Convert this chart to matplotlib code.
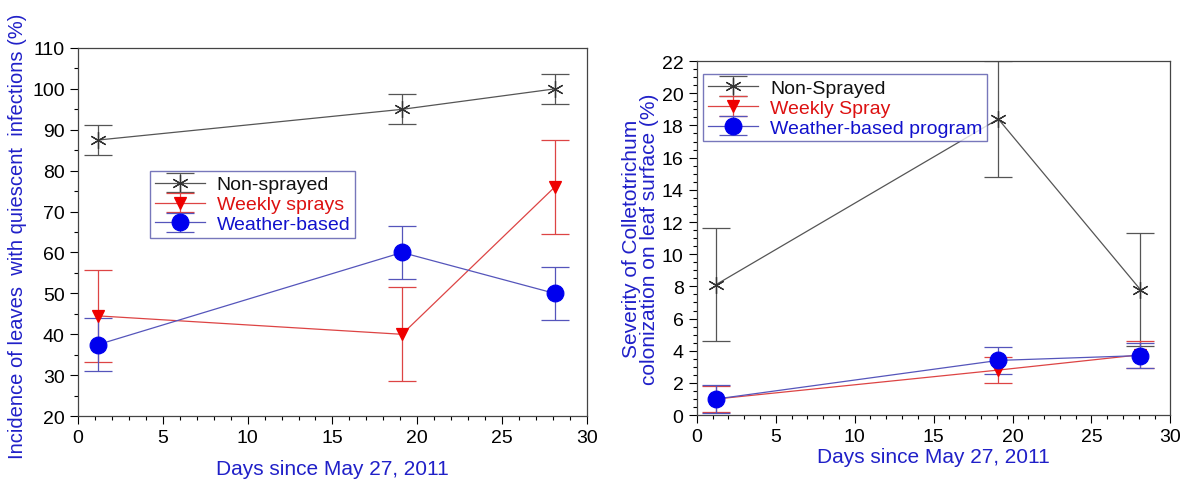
import matplotlib
matplotlib.use('Agg')
import matplotlib.pyplot as plt
from matplotlib.ticker import MultipleLocator

plt.rcParams['font.family'] = ['Liberation Sans', 'DejaVu Sans']

days = [1.2, 19.1, 28.1]

# left panel: incidence (%)
inc_non = [87.5, 95.0, 100.0]
inc_non_err = [3.6, 3.7, 3.6]
inc_weekly = [44.5, 40.0, 76.0]
inc_weekly_err = [11.3, 11.5, 11.4]
inc_weather = [37.5, 60.0, 50.0]
inc_weather_err = [6.5, 6.5, 6.5]
inc_labels = ['Non-sprayed', 'Weekly sprays', 'Weather-based']

# right panel: severity (%)
sev_non = [8.1, 18.4, 7.8]
sev_non_err = [3.5, 3.6, 3.5]
sev_weekly = [1.0, 2.8, 3.75]
sev_weekly_err = [0.8, 0.8, 0.85]
sev_weather = [1.0, 3.4, 3.7]
sev_weather_err = [0.85, 0.85, 0.8]
sev_labels = ['Non-Sprayed', 'Weekly Spray', 'Weather-based program']

BLUE = '#2020c8'
styles = [
    dict(color='#555555', marker=(6, 2, 0), ms=12, mfc='none', mec='#333333'),
    dict(color='#dd4444', marker='v', ms=9, mfc='#ee0000', mec='#ee0000'),
    dict(color='#5555bb', marker='o', ms=12, mfc='#0000ee', mec='#0000ee'),
]
text_colors = ['#111111', '#dd1111', '#1111cc']

fig = plt.figure(figsize=(11.81, 4.85), dpi=100)
ax1 = fig.add_axes([0.066, 0.140, 0.431, 0.759])
ax2 = fig.add_axes([0.590, 0.142, 0.401, 0.730])


def draw(ax, ys, errs, labels, legend_box):
    handles = []
    for y, e, st in zip(ys, errs, styles):
        h = ax.errorbar(days, y, yerr=e, color=st['color'], lw=0.9, elinewidth=0.9,
                        capsize=10, capthick=0.9, marker=st['marker'], ms=st['ms'],
                        mfc=st['mfc'], mec=st['mec'], mew=0.9, ecolor=st['color'])
        handles.append(h)
    leg = ax.legend(handles, labels, loc='upper left', bbox_to_anchor=legend_box,
                    fontsize=14, frameon=True, fancybox=False, handlelength=2.6,
                    borderpad=0.25, labelspacing=0.12, handletextpad=0.6,
                    borderaxespad=0)
    leg.get_frame().set_edgecolor('#5555aa')
    leg.get_frame().set_linewidth(1.0)
    for t, c in zip(leg.get_texts(), text_colors):
        t.set_color(c)
    ax.set_xlim(0, 30)
    ax.xaxis.set_major_locator(MultipleLocator(5))
    ax.xaxis.set_minor_locator(MultipleLocator(1))
    ax.tick_params(which='major', direction='out', length=6, width=0.8, labelsize=14,
                   top=False, right=False)
    ax.tick_params(which='minor', direction='out', length=3, width=0.8,
                   top=False, right=False)
    for s in ax.spines.values():
        s.set_color('#444444')
        s.set_linewidth(0.9)


draw(ax1, [inc_non, inc_weekly, inc_weather],
     [inc_non_err, inc_weekly_err, inc_weather_err], inc_labels, (0.141, 0.666))
ax1.set_ylim(20, 110)
ax1.yaxis.set_major_locator(MultipleLocator(10))
ax1.yaxis.set_minor_locator(MultipleLocator(5))
ax1.set_ylabel('Incidence of leaves  with quiescent  infections (%)', color=BLUE,
               fontsize=14.5)
ax1.yaxis.set_label_coords(-0.10, 0.49)
ax1.set_xlabel('Days since May 27, 2011', color=BLUE, fontsize=15, labelpad=9)

draw(ax2, [sev_non, sev_weekly, sev_weather],
     [sev_non_err, sev_weekly_err, sev_weather_err], sev_labels, (0.013, 0.963))
ax2.set_ylim(0, 22)
ax2.yaxis.set_major_locator(MultipleLocator(2))
ax2.yaxis.set_minor_locator(MultipleLocator(0.5))
ax2.set_ylabel('Severity of Colletotrichum\ncolonization on leaf surface (%)', color=BLUE,
               fontsize=15, linespacing=0.95, labelpad=2)
ax2.set_xlabel('Days since May 27, 2011', color=BLUE, fontsize=15, labelpad=1)

fig.savefig('out.png', dpi=100)
